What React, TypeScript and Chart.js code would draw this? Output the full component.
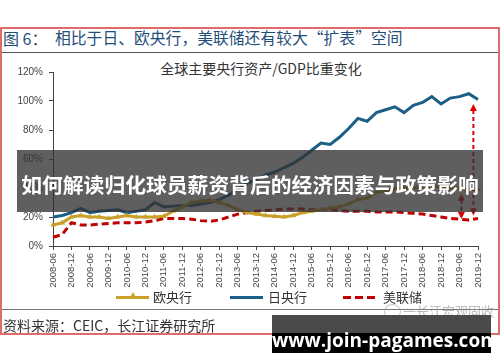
import { useEffect, useRef } from 'react';
import { Chart, registerables } from 'chart.js';

Chart.register(...registerables);

const quarters = [
  '2008-06', '2008-09', '2008-12', '2009-03', '2009-06', '2009-09', '2009-12', '2010-03',
  '2010-06', '2010-09', '2010-12', '2011-03', '2011-06', '2011-09', '2011-12', '2012-03',
  '2012-06', '2012-09', '2012-12', '2013-03', '2013-06', '2013-09', '2013-12', '2014-03',
  '2014-06', '2014-09', '2014-12', '2015-03', '2015-06', '2015-09', '2015-12', '2016-03',
  '2016-06', '2016-09', '2016-12', '2017-03', '2017-06', '2017-09', '2017-12', '2018-03',
  '2018-06', '2018-09', '2018-12', '2019-03', '2019-06', '2019-09', '2019-12',
];

const ecb = [
  14.5, 16, 20, 21, 20, 20, 19, 20, 21, 20, 20, 20, 20.5, 24, 27, 30,
  31, 31.5, 30, 28, 25, 23, 22, 21, 20.5, 20, 21, 23, 24, 25, 26, 27,
  29, 32, 33, 37, 38, 39, 40, 40, 41, 41, 41, 40, 40, 39, 39,
];

const boj = [
  20, 21, 23, 26, 23, 24, 24.5, 25, 23, 24, 25, 30, 27, 27.5, 28, 28,
  29, 30, 32, 35, 39, 43, 46, 49, 51, 54, 57, 61, 66, 71, 70, 75,
  81, 88, 86, 92, 94, 96, 92, 97, 99, 103, 98, 102, 103, 105, 101,
];

const fed = [
  6, 8, 16, 14.5, 14.5, 15, 15.5, 16, 16, 16, 16.5, 17.5, 19, 19, 19, 18.5,
  17.5, 17, 18, 20, 22, 23, 24, 24.5, 25, 25.5, 25.5, 25.5, 25, 25, 25, 24.5,
  24, 24, 24, 23.5, 23.5, 23.5, 23, 22.5, 22, 21, 20, 19, 18.5, 18, 19,
];

const yTicks = [0, 20, 40, 60, 80, 100, 120];

// arrows: [x position (quarter index), lower value, upper value]
const arrowAt = [45.5, 44.2];
const arrowFrom = [21, 18.6];
const arrowTo = [98, 36];

const GOLD = '#c9a12a';
const BLUE = '#1b5e87';
const RED = '#c00000';

const arrowPlugin = {
  id: 'gapArrows',
  afterDatasetsDraw(chart: any) {
    const { ctx } = chart;
    const xs = chart.scales.x;
    const ys = chart.scales.y;
    ctx.save();
    ctx.strokeStyle = '#e00000';
    ctx.fillStyle = '#e00000';
    ctx.lineWidth = 2;
    for (let i = 0; i < arrowAt.length; i++) {
      const px = xs.getPixelForValue(arrowAt[i]);
      const yb = ys.getPixelForValue(arrowFrom[i]);
      const yt = ys.getPixelForValue(arrowTo[i]);
      const h = 7;
      const w = 3.5;
      ctx.setLineDash([4, 3]);
      ctx.beginPath();
      ctx.moveTo(px, yt + h - 1);
      ctx.lineTo(px, yb - h + 1);
      ctx.stroke();
      ctx.setLineDash([]);
      ctx.beginPath();
      ctx.moveTo(px, yt);
      ctx.lineTo(px - w, yt + h);
      ctx.lineTo(px + w, yt + h);
      ctx.closePath();
      ctx.fill();
      ctx.beginPath();
      ctx.moveTo(px, yb);
      ctx.lineTo(px - w, yb - h);
      ctx.lineTo(px + w, yb - h);
      ctx.closePath();
      ctx.fill();
    }
    ctx.restore();
  },
};

export default function App() {
  const ref = useRef<HTMLCanvasElement | null>(null);

  useEffect(() => {
    if (!ref.current) return;
    const chart = new Chart(ref.current, {
      type: 'line',
      data: {
        labels: quarters,
        datasets: [
          {
            label: '欧央行',
            data: ecb,
            borderColor: GOLD,
            backgroundColor: GOLD,
            borderWidth: 3,
            pointStyle: 'triangle',
            pointRadius: 3.2,
            pointBorderWidth: 0,
            pointBackgroundColor: GOLD,
            tension: 0,
          },
          {
            label: '日央行',
            data: boj,
            borderColor: BLUE,
            backgroundColor: BLUE,
            borderWidth: 3,
            pointRadius: 0,
            tension: 0,
          },
          {
            label: '美联储',
            data: fed,
            borderColor: RED,
            backgroundColor: RED,
            borderWidth: 3,
            borderDash: [7, 4],
            pointRadius: 0,
            tension: 0,
          },
        ],
      },
      options: {
        animation: false,
        responsive: false,
        layout: { padding: { top: 16, right: 20, bottom: 0, left: 0 } },
        plugins: {
          legend: { display: false },
          tooltip: { enabled: false },
          title: { display: false },
        },
        scales: {
          x: {
            type: 'category',
            ticks: {
              autoSkip: false,
              minRotation: 90,
              maxRotation: 90,
              padding: 3,
              color: '#444',
              font: { family: '"Liberation Sans", Arial, sans-serif', size: 9.5 },
              callback: (_v: any, i: number) => (i % 2 === 0 ? quarters[i] : ''),
            },
            grid: {
              drawOnChartArea: false,
              tickLength: 4,
              color: (c: any) => (c.index % 2 === 0 ? '#444' : 'rgba(0,0,0,0)'),
            },
            border: { color: '#444', width: 1 },
            afterFit: (s: any) => {
              s.height = 44;
            },
          },
          y: {
            min: yTicks[0],
            max: yTicks[yTicks.length - 1],
            afterBuildTicks: (s: any) => {
              s.ticks = yTicks.map((v) => ({ value: v }));
            },
            ticks: {
              padding: 6,
              color: '#444',
              font: { family: '"Liberation Sans", Arial, sans-serif', size: 10 },
              callback: (v: any) => v + '%',
            },
            grid: { drawOnChartArea: false, tickLength: 4, color: '#444' },
            border: { color: '#444', width: 1 },
            afterFit: (s: any) => {
              s.width = 53;
            },
          },
        },
      },
      plugins: [arrowPlugin],
    });
    return () => chart.destroy();
  }, []);

  const cjk = '"Noto Sans CJK SC", "Noto Sans", sans-serif';

  return (
    <div
      style={{
        position: 'absolute',
        left: 0,
        top: 0,
        width: 500,
        height: 362,
        background: '#fff',
        overflow: 'hidden',
        fontFamily: cjk,
      }}
    >
      {/* outer red frame */}
      <div
        style={{
          position: 'absolute',
          left: 0,
          top: 27,
          width: 496,
          height: 304,
          border: '2px solid #e06b6b',
        }}
      />
      {/* title row */}
      <div style={{ position: 'absolute', left: 3, top: 29, fontSize: 16, lineHeight: '18px', color: '#1f4e79', whiteSpace: 'nowrap' }}>
        图 6：
      </div>
      <div style={{ position: 'absolute', left: 55, top: 29, fontSize: 15.8, lineHeight: '18px', color: '#1f4e79', whiteSpace: 'nowrap' }}>
        相比于日、欧央行，美联储还有较大“扩表”空间
      </div>
      <div style={{ position: 'absolute', left: 2, top: 52, width: 496, height: 1, background: '#555' }} />

      {/* chart title */}
      <div
        style={{
          position: 'absolute',
          left: 0,
          width: 522,
          top: 60,
          textAlign: 'center',
          fontSize: 14,
          lineHeight: '16px',
          color: '#333',
          whiteSpace: 'nowrap',
        }}
      >
        全球主要央行资产/GDP比重变化
      </div>

      {/* chart canvas */}
      <canvas ref={ref} width={498} height={234} style={{ position: 'absolute', left: 0, top: 56, width: 498, height: 234 }} />

      {/* legend */}
      <div style={{ position: 'absolute', left: 116, top: 295.5, width: 33, height: 3, background: GOLD }} />
      <div
        style={{
          position: 'absolute',
          left: 128.5,
          top: 292,
          width: 0,
          height: 0,
          borderLeft: '4px solid transparent',
          borderRight: '4px solid transparent',
          borderBottom: '7px solid ' + GOLD,
        }}
      />
      <div style={{ position: 'absolute', left: 153, top: 288, fontSize: 13, lineHeight: '18px', color: '#333' }}>欧央行</div>
      <div style={{ position: 'absolute', left: 230, top: 295.5, width: 33, height: 3, background: BLUE }} />
      <div style={{ position: 'absolute', left: 268, top: 288, fontSize: 13, lineHeight: '18px', color: '#333' }}>日央行</div>
      <div
        style={{
          position: 'absolute',
          left: 343,
          top: 295.5,
          width: 32,
          height: 3,
          background: `repeating-linear-gradient(to right, ${RED} 0 8px, transparent 8px 12px)`,
        }}
      />
      <div style={{ position: 'absolute', left: 383, top: 288, fontSize: 13, lineHeight: '18px', color: '#333' }}>美联储</div>

      {/* separator and source */}
      <div style={{ position: 'absolute', left: 2, top: 309, width: 496, height: 1, background: '#777' }} />
      <div style={{ position: 'absolute', left: 3, top: 316, fontSize: 14, lineHeight: '18px', color: '#333', whiteSpace: 'nowrap' }}>
        资料来源：CEIC，长江证券研究所
      </div>

      {/* faint account watermark */}
      <div
        style={{
          position: 'absolute',
          left: 384,
          top: 304,
          width: 15,
          height: 13,
          borderRadius: '50%',
          border: '1px solid rgba(160,160,160,0.6)',
        }}
      />
      <div style={{ position: 'absolute', left: 403, top: 302, fontSize: 13, lineHeight: '18px', color: 'rgba(150,150,150,0.65)', whiteSpace: 'nowrap' }}>
        一长江宏观固收
      </div>

      {/* dark overlay banner */}
      <div
        style={{
          position: 'absolute',
          left: 17,
          top: 150,
          width: 466,
          height: 62,
          background: 'rgba(50,50,50,0.78)',
          color: '#fff',
          fontWeight: 700,
          fontSize: 20.8,
          lineHeight: '62px',
          textAlign: 'center',
          whiteSpace: 'nowrap',
          paddingTop: 3,
          boxSizing: 'border-box',
        }}
      >
        如何解读归化球员薪资背后的经济因素与政策影响
      </div>

      {/* black site watermark */}
      <div
        style={{
          position: 'absolute',
          left: 272,
          top: 315,
          width: 219,
          height: 38,
          background: 'linear-gradient(to bottom, #4a4a4a 0 18px, #000 18px 38px)',
          color: '#fff',
          fontFamily: '"Open Sans", "DejaVu Sans", sans-serif',
          fontWeight: 700,
          fontSize: 19,
          lineHeight: '38px',
          textAlign: 'center',
          whiteSpace: 'nowrap',
          paddingTop: 6,
          boxSizing: 'border-box',
        }}
      >
        www.join-pagames.com
      </div>
    </div>
  );
}
